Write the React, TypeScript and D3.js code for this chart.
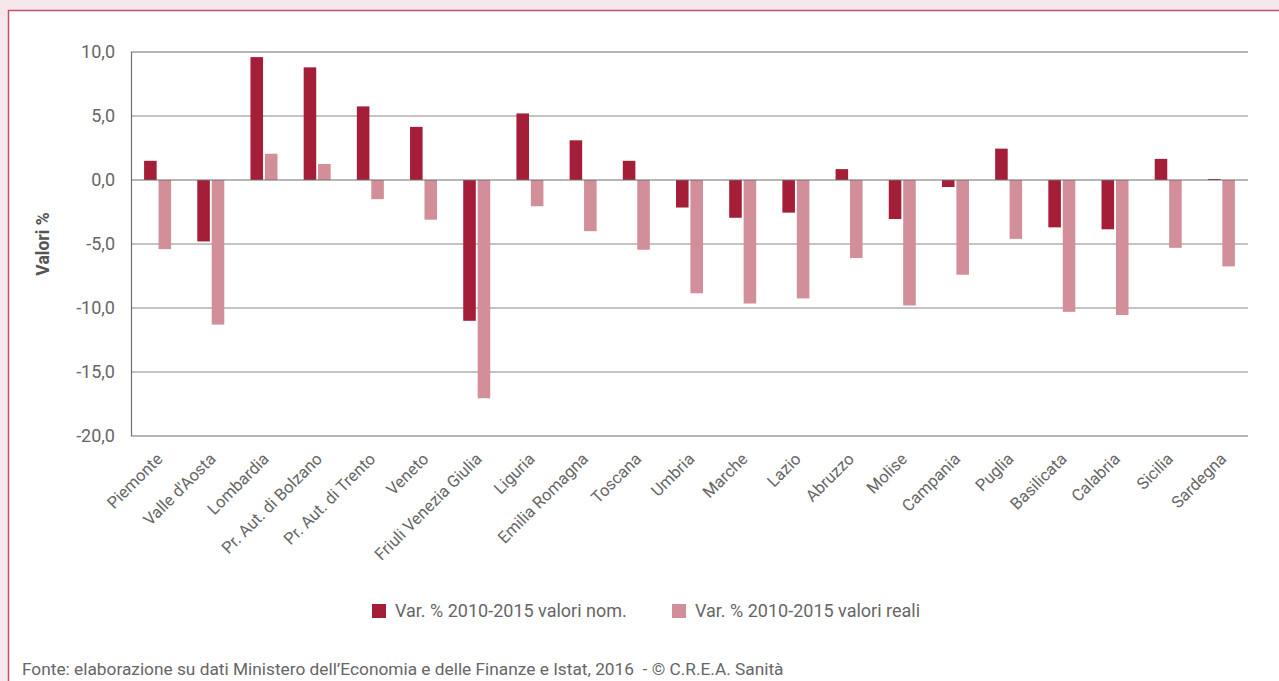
import React from "react";
import * as d3 from "d3";

const regions = [
  "Piemonte", "Valle d'Aosta", "Lombardia", "Pr. Aut. di Bolzano", "Pr. Aut. di Trento",
  "Veneto", "Friuli Venezia Giulia", "Liguria", "Emilia Romagna", "Toscana", "Umbria",
  "Marche", "Lazio", "Abruzzo", "Molise", "Campania", "Puglia", "Basilicata", "Calabria",
  "Sicilia", "Sardegna",
];
const nominal = [1.5, -4.8, 9.6, 8.8, 5.75, 4.15, -11.0, 5.2, 3.1, 1.5, -2.15, -2.95, -2.55, 0.85, -3.05, -0.55, 2.45, -3.7, -3.85, 1.65, 0.08];
const real = [-5.4, -11.3, 2.05, 1.25, -1.5, -3.1, -17.05, -2.05, -4.0, -5.45, -8.85, -9.65, -9.25, -6.1, -9.8, -7.4, -4.6, -10.3, -10.55, -5.3, -6.75];
const yTicks = [10, 5, 0, -5, -10, -15, -20];
const seriesNames = ["Var. % 2010-2015 valori nom.", "Var. % 2010-2015 valori reali"];
const colors = ["#a51e37", "#d38f99"];
const source = "Fonte: elaborazione su dati Ministero dell’Economia e delle Finanze e Istat, 2016\u00a0 - © C.R.E.A. Sanità";

const W = 1279, H = 681;
const FONT = "Roboto, 'Liberation Sans', sans-serif";

export default function App() {
  const x = d3.scaleBand<string>().domain(regions).range([131, 1248]);
  const y = d3.scaleLinear().domain([-20, 10]).range([436, 52]);
  const sub = d3.scaleBand<number>().domain([0, 1]).range([0, 27]).paddingInner(0.13);
  const fmt = (v: number) => d3.format(".1f")(v).replace(".", ",").replace("−", "-");
  const bw = x.bandwidth();

  return (
    <svg width={W} height={H} style={{ position: "absolute", left: 0, top: 0 }} fontFamily={FONT}>
      <rect x={0} y={0} width={W} height={H} fill="#f5e7eb" />
      <rect x={8} y={10} width={W - 8} height={H - 10} fill="#ffffff" />
      <line x1={8} x2={W} y1={10.5} y2={10.5} stroke="#c4526b" strokeWidth={1.5} />
      <line x1={8.5} x2={8.5} y1={10} y2={H} stroke="#c4526b" strokeWidth={1.5} />

      {yTicks.map((t) => (
        <g key={t}>
          {t !== 0 && (
            <line x1={131} x2={1248} y1={y(t)} y2={y(t)} stroke={t === 10 || t === -20 ? "#6e6e6e" : "#888"} strokeWidth={1.2} />
          )}
          <text x={115} y={y(t)} dy="0.36em" textAnchor="end" fontSize={18} fill="#666">{fmt(t)}</text>
        </g>
      ))}
      <line x1={131.5} x2={131.5} y1={52} y2={436} stroke="#6e6e6e" strokeWidth={1.2} />

      {regions.map((r, i) => {
        const gx = (x(r) as number) + (bw - 27) / 2;
        return (
          <g key={r}>
            {[nominal[i], real[i]].map((v, s) => (
              <rect key={s} x={gx + (sub(s) as number)} width={sub.bandwidth()}
                y={Math.min(y(v), y(0))} height={Math.abs(y(v) - y(0))} fill={colors[s]} />
            ))}
            <text transform={`translate(${(x(r) as number) + bw / 2 + 6},${460}) rotate(-45)`}
              textAnchor="end" fontSize={16.5} fill="#666">{r}</text>
          </g>
        );
      })}
      <line x1={131} x2={1248} y1={y(0)} y2={y(0)} stroke="#6e6e6e" strokeWidth={1.2} />

      <text transform={`translate(49,244) rotate(-90)`} textAnchor="middle" fontSize={17.5} fontWeight="bold" fill="#555">Valori %</text>

      {seriesNames.map((n, i) => {
        const lx = i === 0 ? 372 : 672;
        return (
          <g key={n}>
            <rect x={lx} y={604} width={14} height={14} fill={colors[i]} />
            <text x={lx + 23} y={611} dy="0.36em" fontSize={18} fill="#666">{n}</text>
          </g>
        );
      })}

      <text x={22} y={675} fontSize={17.3} fill="#666">{source}</text>
    </svg>
  );
}
